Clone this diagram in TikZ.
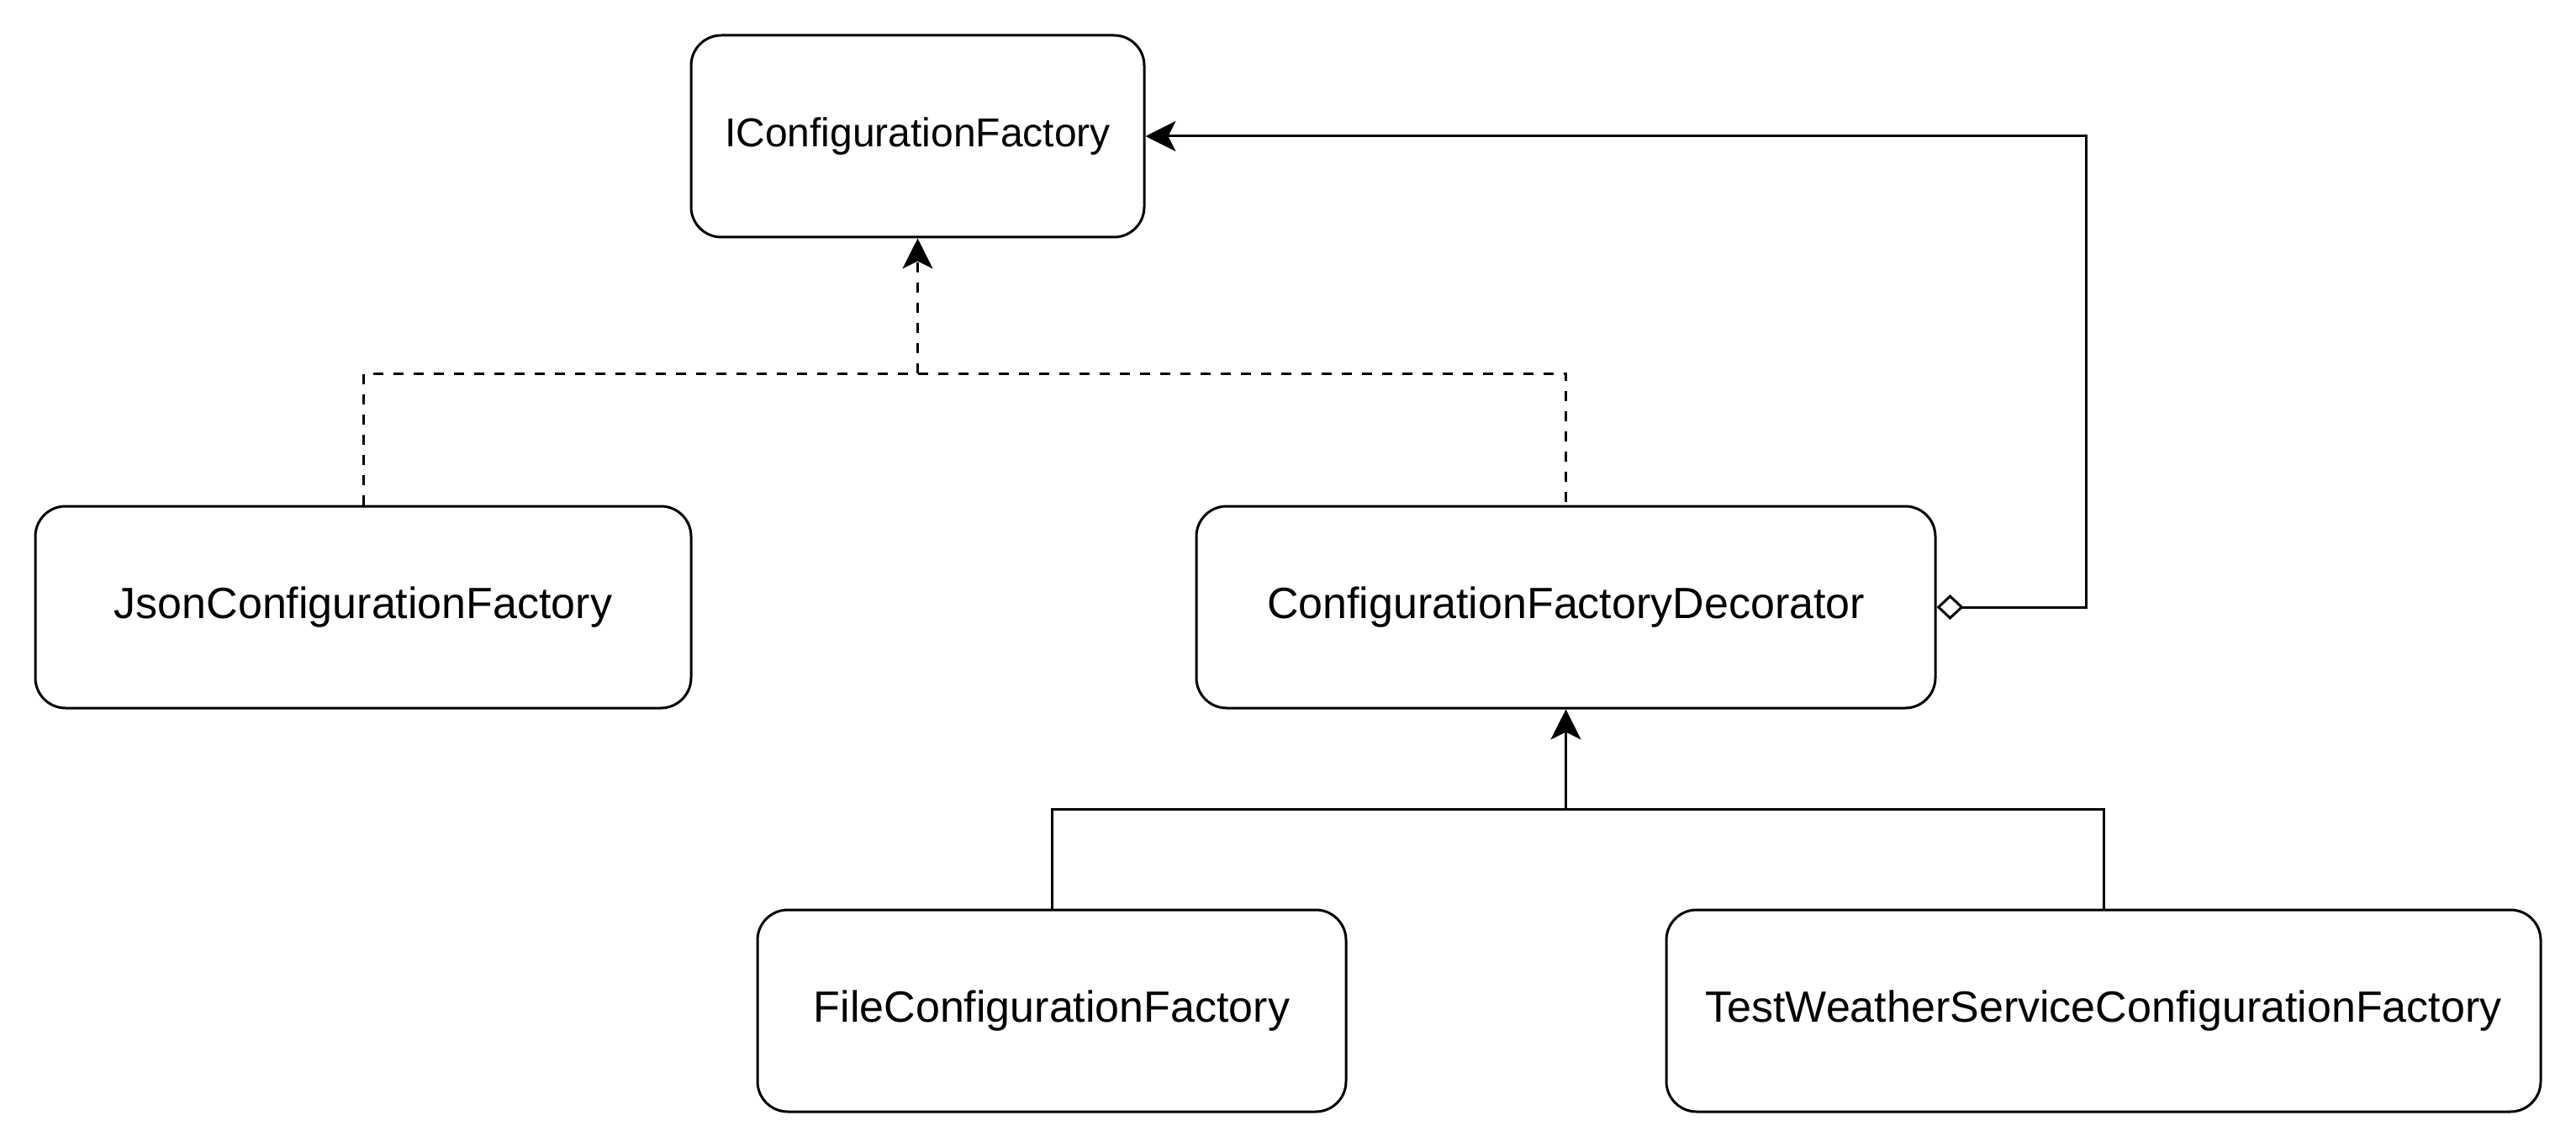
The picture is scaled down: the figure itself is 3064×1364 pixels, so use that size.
\documentclass[tikz,border=0pt]{standalone}
\usepackage{fontspec}
\setmainfont{Liberation Sans}
\usetikzlibrary{arrows.meta}
\tikzset{
  umltip/.tip={Stealth[length=18pt,width=18pt,inset=4.5pt]},
  aggtip/.tip={Diamond[open,length=16pt,width=15pt,fill=white]}
}
\begin{document}
\begin{tikzpicture}[x=0.5pt,y=-0.5pt,
  cls/.style={draw=black, line width=1.5pt, rounded corners=18pt, fill=white,
    minimum height=120pt, inner sep=0pt,
    font=\fontsize{26}{30}\selectfont},
  smalltext/.style={font=\fontsize{24}{28}\selectfont},
  conn/.style={line width=1.5pt, draw=black},
  dashconn/.style={conn, dash pattern=on 6pt off 6pt}
]
\useasboundingbox (0,0) rectangle (3064,1364);

\node[cls, smalltext, minimum width=269.5pt] (ic) at (1091.5,162) {IConfigurationFactory};
\node[cls, minimum width=390pt]   (json) at (432,722)    {JsonConfigurationFactory};
\node[cls, minimum width=439.5pt] (dec)  at (1862.5,722) {ConfigurationFactoryDecorator};
\node[cls, minimum width=350pt]   (file) at (1251,1202)  {FileConfigurationFactory};
\node[cls, minimum width=520pt]   (test) at (2502,1202)  {TestWeatherServiceConfigurationFactory};

\coordinate (dj) at (1091.5,444);
\coordinate (sj) at (1862.5,962);
\coordinate (ac) at (2481,162);

% realization (dashed)
\draw[dashconn] (json.north) |- (dj) -| (dec.north);
\draw[dashconn, -umltip] (dj) -- (ic.south);

% inheritance (solid)
\draw[conn] (file.north) |- (sj) -| (test.north);
\draw[conn, -umltip] (sj) -- (dec.south);

% aggregation
\draw[conn, aggtip-umltip] (dec.east) -| (ac) -- (ic.east);
\end{tikzpicture}
\end{document}
